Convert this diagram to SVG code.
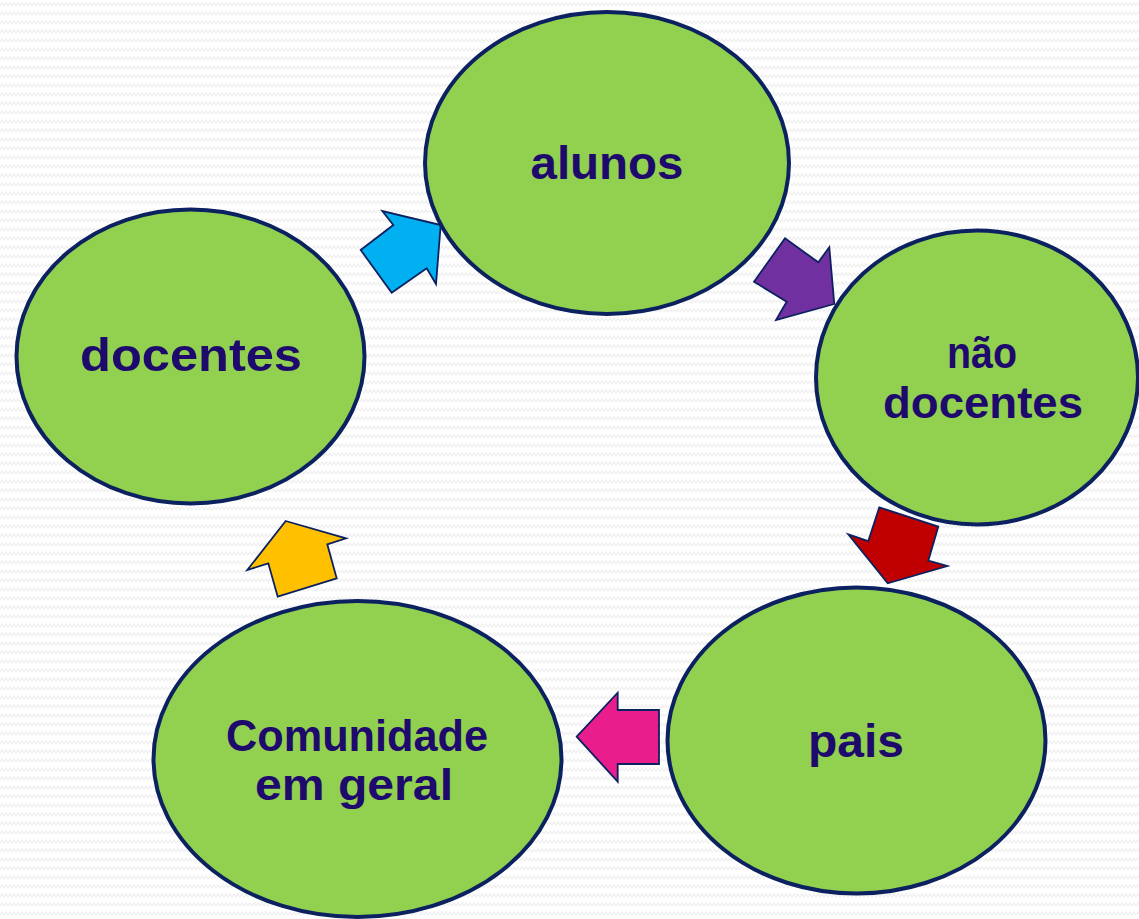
<svg xmlns="http://www.w3.org/2000/svg" width="1139" height="919" viewBox="0 0 1139 919">
  <style>
    .node ellipse { fill: #92d050; stroke: #0c2160; stroke-width: 4; }
    .lbl { font-family: "Liberation Sans", Arial, sans-serif; font-weight: bold; font-size: 46px; fill: #1e0a6c; text-anchor: middle; }
    .two { font-size: 44px; }
    .arr { stroke: #0c2160; stroke-width: 1.8; stroke-linejoin: miter; }
  </style>
  <defs>
    <pattern id="zig" width="8" height="9" patternUnits="userSpaceOnUse">
      <path d="M0 6 L2 3 L4 6 L6 3 L8 6" fill="none" stroke="#f0f0f0" stroke-width="1.3"/>
    </pattern>
  </defs>
  <rect width="1139" height="919" fill="#ffffff"/>
  <rect width="1139" height="919" fill="url(#zig)"/>

  <g id="connectors">
    <polygon class="arr" fill="#00b0f0" points="440.7,225 436,284 426.7,268.3 391.7,292.7 360.7,250 393.3,225 382.3,211"/>
    <polygon class="arr" fill="#7030a0" points="834.3,304 776,320 786.7,301.7 754,281.7 785,238.3 818.3,262.3 829.3,247.3"/>
    <polygon class="arr" fill="#c00000" points="887.7,583.3 848.3,534.3 868.3,541 879.3,507.3 938.3,526.7 928.3,560.7 947.3,566"/>
    <polygon class="arr" fill="#e91e8c" points="576.7,736.7 617.7,692.7 617.7,710 659,710 659,764 617.7,764 617.7,781.7"/>
    <polygon class="arr" fill="#ffc000" points="285.7,521 346,538.3 327.3,544.3 336.7,578.3 277.7,596.7 268.3,563.3 247.3,570"/>
  </g>

  <g id="node-alunos" class="node">
    <ellipse cx="607" cy="163" rx="182" ry="151"/>
    <text class="lbl" x="607" y="179" textLength="153" lengthAdjust="spacingAndGlyphs">alunos</text>
  </g>
  <g id="node-nao-docentes" class="node">
    <ellipse cx="977" cy="377.5" rx="161" ry="147"/>
    <text class="lbl two" x="982" y="368" textLength="70" lengthAdjust="spacingAndGlyphs">não</text>
    <text class="lbl two" x="983" y="418" textLength="200" lengthAdjust="spacingAndGlyphs">docentes</text>
  </g>
  <g id="node-pais" class="node">
    <ellipse cx="856.5" cy="740.5" rx="189" ry="153"/>
    <text class="lbl" x="856" y="757" textLength="96" lengthAdjust="spacingAndGlyphs">pais</text>
  </g>
  <g id="node-comunidade" class="node">
    <ellipse cx="357.5" cy="759" rx="204" ry="158"/>
    <text class="lbl two" x="357" y="751" textLength="262" lengthAdjust="spacingAndGlyphs">Comunidade</text>
    <text class="lbl two" x="354" y="800" textLength="198" lengthAdjust="spacingAndGlyphs">em geral</text>
  </g>
  <g id="node-docentes" class="node">
    <ellipse cx="190.5" cy="356.5" rx="174" ry="147"/>
    <text class="lbl" x="191" y="371" textLength="222" lengthAdjust="spacingAndGlyphs">docentes</text>
  </g>
</svg>
